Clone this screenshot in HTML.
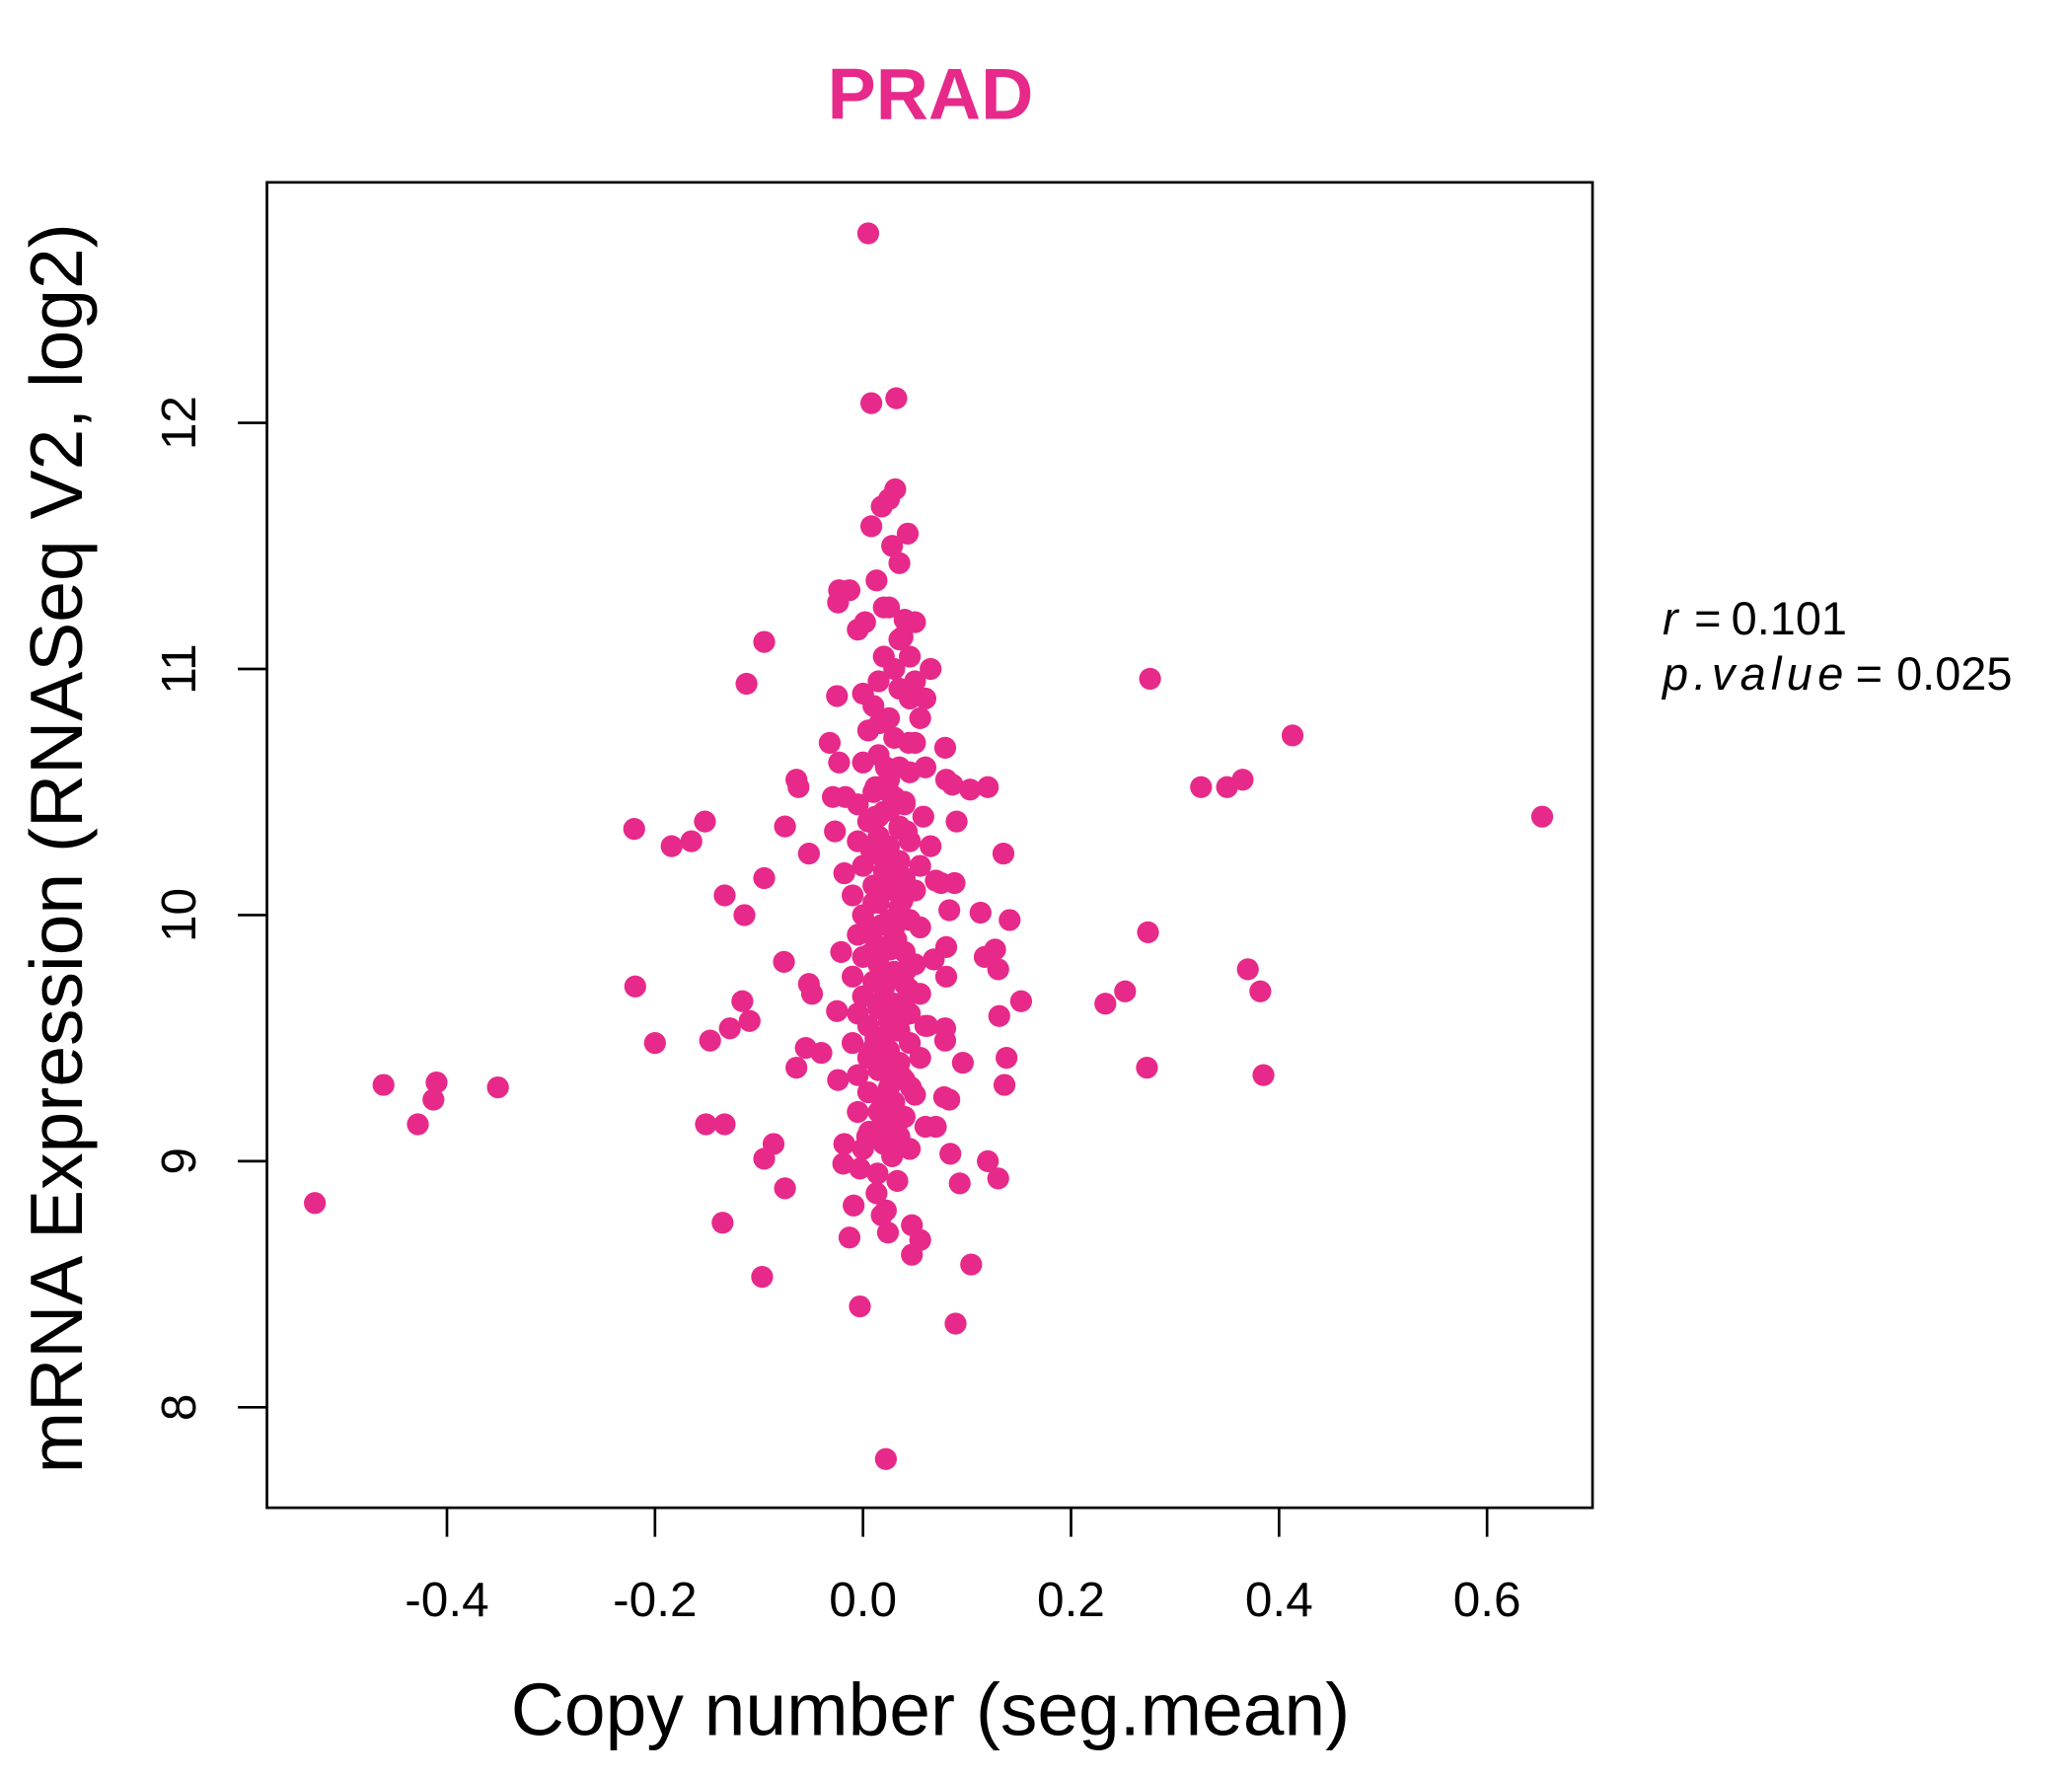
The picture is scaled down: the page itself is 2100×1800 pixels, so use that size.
<!DOCTYPE html>
<html><head><meta charset="utf-8"><style>html,body{margin:0;padding:0;background:#fff}svg{display:block}</style></head>
<body>
<svg id="chart" width="2100" height="1800" viewBox="0 0 1567.8 1344" preserveAspectRatio="none" xmlns="http://www.w3.org/2000/svg" font-family="'Liberation Sans', sans-serif">
<rect width="1567.8" height="1344" fill="#fff"/>
<text x="704" y="90" text-anchor="middle" font-size="55" font-weight="bold" fill="#E7298A">PRAD</text>
<rect x="202" y="138" width="1003" height="1003" fill="none" stroke="#000" stroke-width="2"/>
<g id="marks"></g>
<g id="xaxis"></g>
<g id="yaxis"></g>
<text x="704" y="1313" text-anchor="middle" font-size="56">Copy number (seg.mean)</text>
<text transform="translate(62,642) rotate(-90)" text-anchor="middle" font-size="56">mRNA Expression (RNASeq V2, log2)</text>
<text y="480" font-size="35"><tspan x="1258" font-style="italic">r</tspan><tspan x="1282">=</tspan><tspan x="1310">0.101</tspan></text>
<text y="522" font-size="35"><tspan x="1258" font-style="italic" letter-spacing="4">p.value</tspan><tspan x="1404">=</tspan><tspan x="1435">0.025</tspan></text>
</svg>
<script>
const xTicks = [-0.4, -0.2, 0.0, 0.2, 0.4, 0.6];
const xTickLabels = ["-0.4", "-0.2", "0.0", "0.2", "0.4", "0.6"];
const yTicks = [8, 9, 10, 11, 12];
const yTickLabels = ["8", "9", "10", "11", "12"];
const copyNumber = [
-0.527,-0.461,-0.41,-0.413,-0.428,-0.351,-0.22,-0.219,-0.2,-0.184,-0.165,-0.152,-0.133,-0.114,-0.147,-0.128,-0.116,-0.109,-0.151,-0.133,-0.135,-0.112,-0.095,-0.095,-0.086,-0.095,-0.075,-0.097,-0.076,-0.075,-0.064,-0.062,-0.052,-0.052,-0.049,-0.064,-0.055,-0.04,
0.276,0.413,0.653,0.325,0.35,0.365,0.233,0.252,0.274,0.273,0.37,0.382,0.385,0.152,0.135,0.141,0.113,0.12,0.103,0.127,0.13,0.117,0.131,0.138,0.136,0.12,0.13,0.104,0.089,0.096,0.093,0.084,0.078,0.083,0.079,0.079,0.08,0.08,0.083,0.075,0.088,0.09,0.08,0.086,0.079,0.065,
0.005,0.008,0.032,0.031,0.025,0.018,0.043,0.008,0.028,0.035,-0.023,-0.013,0.013,-0.024,-0.005,0.002,0.05,0.02,0.025,0.038,-0.025,-0.032,-0.023,-0.029,-0.017,-0.027,-0.018,-0.021,-0.025,-0.024,
0.022,-0.003,-0.013,-0.009,0.013,0.022,0.018,0.024,0.047,0.055,0.047,0.033,0.014,-0.003,-0.019,-0.018,
0.02,0.03,0.015,0.035,0.0,0.01,0.045,0.025,0.055,0.06,0.005,0.03,0.05,0.015,0.035,0.0,0.025,0.045,0.01,0.03,-0.005,0.04,0.02,0.005,0.035,0.015,0.045,0.025,-0.005,0.01,0.035,0.055,0.0,0.02,0.04,0.01,0.03,0.05,-0.01,0.015,0.035,0.0,0.025,0.045,0.01,0.055,-0.005,0.03,0.02,0.04,0.0,0.015,0.05,0.03,-0.01,0.01,0.04,0.02,0.0,0.055,0.03,0.015,-0.005,0.045,0.025,0.005,0.035,0.06,0.015,-0.01,0.045,0.025,0.005,0.035,0.055,0.015,-0.005,0.04,0.025,0.005,0.05,0.03,0.015,-0.005,0.04,0.025,0.06,0.01,0.035,0.02,0.045,0.0,
0.065,0.07,0.068,0.062,0.07,0.058,0.06,0.05,0.045,0.04,0.035,0.02,0.03,0.01,0.04,0.02,0.03,0.01,0.025,0.035,0.015,0.025,0.02,0.03,
0.012,0.028,0.042,0.008,0.022,0.038,0.018,0.032,0.006,0.026,0.044,0.014,0.036,0.024,0.01,0.03,0.046,0.018,0.034,0.004,0.022,0.04,0.012,0.028,0.016,0.036,0.008,0.026,0.042,0.02,0.032,0.012,0.024,0.038,0.018,0.03,0.006,0.028,0.044,0.016
];
const expression = [
8.83,9.31,9.32,9.25,9.15,9.30,10.35,9.71,9.48,10.28,10.30,10.38,10.08,10.0,9.49,9.54,9.65,9.57,9.15,9.15,8.75,10.94,11.11,10.15,9.07,9.01,8.89,8.53,9.81,10.36,10.55,10.52,10.25,9.72,9.68,9.38,9.46,9.44,
10.96,10.73,10.40,10.52,10.52,10.55,9.64,9.69,9.93,9.38,9.78,9.69,9.35,9.65,10.25,9.98,10.01,10.52,10.51,9.86,9.78,9.83,9.59,9.42,9.31,9.0,8.93,8.58,8.34,9.40,8.91,9.03,9.26,9.25,9.49,9.54,9.75,9.87,10.02,10.13,10.13,10.38,10.55,10.53,10.68,11.0,
12.77,12.08,12.10,11.73,11.69,11.66,11.55,11.58,11.50,11.43,11.32,11.32,11.36,11.27,11.16,11.19,11.19,11.25,11.25,11.13,10.89,10.70,10.62,10.48,10.48,10.34,10.17,9.85,9.61,9.33,
7.79,8.41,8.69,8.82,8.87,8.80,8.78,8.71,8.74,8.68,8.62,8.92,8.95,8.97,8.99,9.07,
11.05,11.0,10.95,10.92,10.9,10.85,10.88,10.8,10.8,10.88,10.75,10.72,10.7,10.65,10.6,10.62,10.55,10.58,10.5,10.48,10.45,10.45,10.42,10.38,10.36,10.32,10.3,10.28,10.3,10.25,10.22,10.2,10.2,10.18,10.15,10.12,10.1,10.1,10.08,10.05,10.03,10.0,9.98,9.98,9.95,9.95,9.92,9.9,9.87,9.85,9.83,9.8,9.8,9.77,9.75,9.73,9.72,9.7,9.67,9.68,9.64,9.62,9.6,9.6,9.57,9.55,9.53,9.55,9.5,9.48,9.48,9.45,9.42,9.4,9.42,9.37,9.35,9.33,9.3,9.28,9.27,9.24,9.2,9.2,9.18,9.15,9.14,9.12,9.1,9.07,9.05,9.05,
10.28,10.14,9.82,9.55,9.14,10.4,10.6,10.95,11.05,11.2,11.12,9.25,9.35,9.45,9.65,9.75,9.95,10.05,10.15,10.35,10.4,10.5,9.12,9.22,
10.52,10.44,10.34,10.26,10.16,10.06,9.96,9.9,9.84,9.76,9.7,9.64,9.58,9.52,9.46,9.38,9.3,9.22,9.16,9.1,10.6,10.46,10.4,10.22,10.1,10.0,9.92,9.86,9.78,9.66,9.6,9.5,9.44,9.34,9.26,9.18,9.12,9.02,10.7,10.78
];
const NS = "http://www.w3.org/2000/svg";
const X0 = 653, XS = 787, Y0 = 1065, YS = 186.25;
function xScale(v){ return X0 + v * XS; }
function yScale(v){ return Y0 - (v - 8) * YS; }
const marks = document.getElementById('marks');
for (let i = 0; i < copyNumber.length; i++) {
  const c = document.createElementNS(NS, 'circle');
  c.setAttribute('cx', xScale(copyNumber[i]));
  c.setAttribute('cy', yScale(expression[i]));
  c.setAttribute('r', 8.3);
  c.setAttribute('fill', '#E7298A');
  
  
  marks.appendChild(c);
}
const xa = document.getElementById('xaxis');
xTicks.forEach((t, i) => {
  const x = xScale(t);
  const l = document.createElementNS(NS, 'line');
  l.setAttribute('x1', x); l.setAttribute('x2', x);
  l.setAttribute('y1', 1141); l.setAttribute('y2', 1163);
  l.setAttribute('stroke', '#000'); l.setAttribute('stroke-width', 2);
  
  
  xa.appendChild(l);
  const tx = document.createElementNS(NS, 'text');
  tx.setAttribute('x', x); tx.setAttribute('y', 1223);
  tx.setAttribute('text-anchor', 'middle'); tx.setAttribute('font-size', 37);
  tx.textContent = xTickLabels[i];
  
  
  xa.appendChild(tx);
});
const ya = document.getElementById('yaxis');
yTicks.forEach((t, i) => {
  const y = yScale(t);
  const l = document.createElementNS(NS, 'line');
  l.setAttribute('x1', 180); l.setAttribute('x2', 202);
  l.setAttribute('y1', y); l.setAttribute('y2', y);
  l.setAttribute('stroke', '#000'); l.setAttribute('stroke-width', 2);
  
  
  ya.appendChild(l);
  const tx = document.createElementNS(NS, 'text');
  tx.setAttribute('transform', 'translate(148,' + y + ') rotate(-90)');
  tx.setAttribute('text-anchor', 'middle'); tx.setAttribute('font-size', 37);
  tx.textContent = yTickLabels[i];
  
  
  ya.appendChild(tx);
});
</script>
</body></html>
